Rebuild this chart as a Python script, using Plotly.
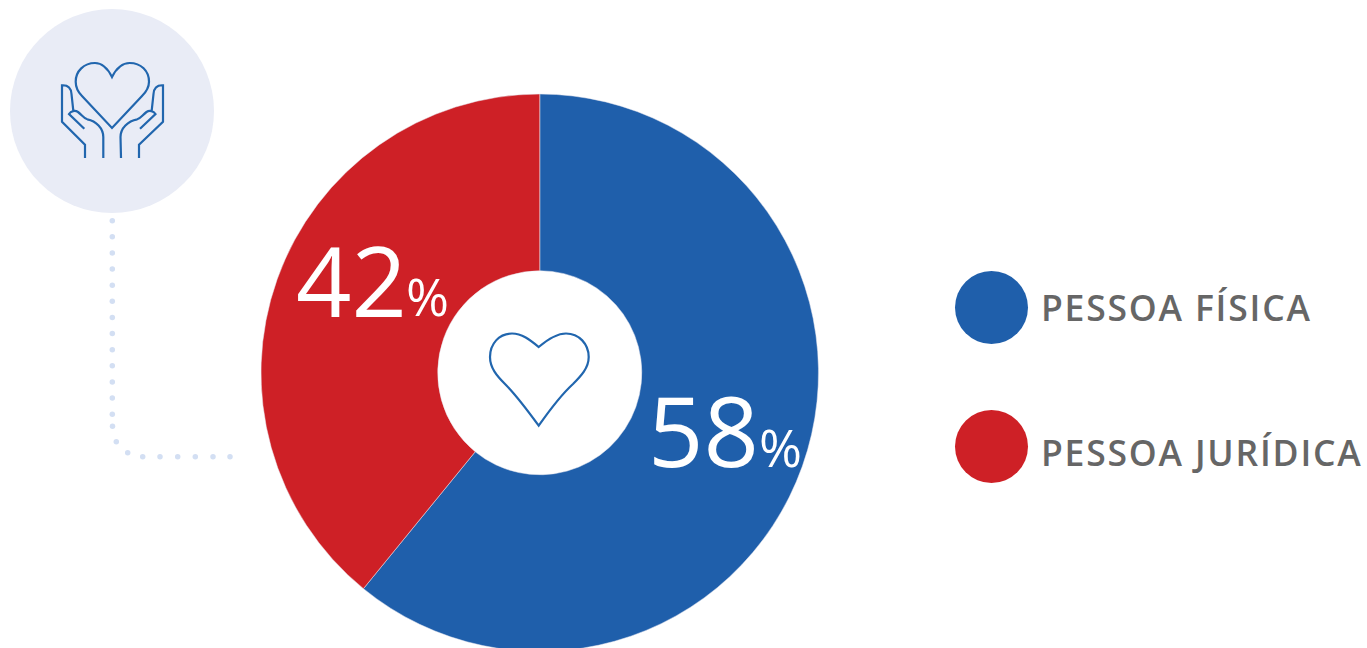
import plotly.graph_objects as go

CATEGORIES = ["PESSOA FÍSICA", "PESSOA JURÍDICA"]
# slice sizes as drawn in the picture (about 220 degrees of blue), labels say 58/42
SLICE_SHARES = [60.9, 39.1]
SLICE_LABELS = ["58", "42"]
COLORS = ["#1F5FAB", "#CE2026"]

WIDTH = 1367
HEIGHT = 660  # pie runs just past the bottom of the window

DOT_X = [112.3] * 13 + [112.5, 116.3, 127.7, 142.7, 160, 177.7, 195.3, 213, 230]
DOT_Y = [220.7 + 16.12 * i for i in range(13)] + [426.3, 441.7, 452.7] + [456.7] * 6

ICON_BLUE = "#2166AE"
BIG_HEART = (
    "M538.7 347 C530 340 522 333.5 512 333.5 C499 333.5 490 344 490 357 "
    "C490 368 497 376 505 384 C516 395 528 411 538.7 425.7 "
    "C549 411 561 395 573 384 C581 376 588.7 368 588.7 357 "
    "C588.7 344 579 333.5 566 333.5 C556 333.5 547 340 538.7 347 Z"
)
SMALL_HEART = (
    "M112 77 C108 69 102 63 95 63 C84 63 75.7 71 75.7 81.7 C75.7 88 78 92 82 96 "
    "L112 128 L142 96 C146 92 149 88 149 81.7 C149 71 141 63 129.7 63 C122 63 116 69 112 77 Z"
)
HAND_LEFT = (
    "M85 158 L85 144.7 L62 121.7 L62 85.3 C67 85 71 87 71.5 94 L73.3 110.7 "
    "M84.3 128.7 L69 114 C71 111 75 110 78 112 C82 115 84 118.5 87.3 119.3 "
    "C96 121 103.3 128 103.3 137 L103.3 158"
)
HAND_RIGHT = (
    "M139 158 L139 144.7 L163 121.7 L163 85.3 C158 85 154 87 153.5 94 L151.7 110.7 "
    "M140 128.7 L155.5 114 C153.5 111 149.5 110 146.5 112 C142.5 115 140.5 118.5 137.2 119.3 "
    "C128 121 120.5 128 120.5 137 L121 158"
)


def circle(cx, cy, r, color):
    return dict(
        type="circle", xref="x", yref="y", x0=cx - r, x1=cx + r, y0=cy - r, y1=cy + r,
        fillcolor=color, line_width=0, layer="below",
    )


def outline(path, width):
    return dict(
        type="path", xref="x", yref="y", path=path,
        line=dict(color=ICON_BLUE, width=width), layer="above",
    )


def pct_label(x, y, text, size):
    return dict(
        x=x, y=y, xref="x", yref="y", text=text, showarrow=False,
        xanchor="right", yanchor="middle",
        font=dict(family="Open Sans", size=size, color="white"),
    )


def legend_label(y, text):
    return dict(
        x=1039, y=y, xref="x", yref="y", showarrow=False, xanchor="left", yanchor="middle",
        text=f"<span style='letter-spacing:1.8px'>{text}</span>",
        font=dict(family="Open Sans", size=35.5, color="#666666", weight=600),
    )


fig = go.Figure()

fig.add_trace(
    go.Scatter(
        x=DOT_X, y=DOT_Y, mode="markers",
        marker=dict(color="#D3DFF3", size=5.5), hoverinfo="skip", showlegend=False,
    )
)
fig.add_trace(
    go.Pie(
        labels=CATEGORIES,
        values=SLICE_SHARES,
        sort=False,
        direction="clockwise",
        rotation=0,
        hole=0.366,
        textinfo="none",
        hoverinfo="skip",
        showlegend=False,
        marker=dict(colors=COLORS, line=dict(color="#E8E8F0", width=0.5)),
        domain=dict(x=[261 / WIDTH, 818.5 / WIDTH], y=[1 - 651.5 / HEIGHT, 1 - 94 / HEIGHT]),
    )
)

fig.update_layout(
    width=WIDTH,
    height=HEIGHT,
    margin=dict(l=0, r=0, t=0, b=0),
    paper_bgcolor="white",
    plot_bgcolor="white",
    xaxis=dict(range=[0, WIDTH], visible=False, fixedrange=True),
    yaxis=dict(range=[HEIGHT, 0], visible=False, fixedrange=True),
    shapes=[
        circle(112, 111, 102, "#E9ECF6"),
        circle(991.5, 307.5, 36.5, COLORS[0]),
        circle(991.5, 446.5, 36.5, COLORS[1]),
        outline(BIG_HEART, 2.2),
        outline(SMALL_HEART, 2.2),
        outline(HAND_LEFT, 2.2),
        outline(HAND_RIGHT, 2.2),
    ],
    annotations=[
        pct_label(409, 279, SLICE_LABELS[1], 97),
        pct_label(451, 295, "%", 52),
        pct_label(761, 429, SLICE_LABELS[0], 97),
        pct_label(804, 446, "%", 52),
        legend_label(307, CATEGORIES[0]),
        legend_label(452, CATEGORIES[1]),
    ],
)

fig.write_html(
    "out.html",
    config=dict(displayModeBar=False),
    post_script="document.body.style.margin='0';document.documentElement.style.overflow='hidden';",
)
